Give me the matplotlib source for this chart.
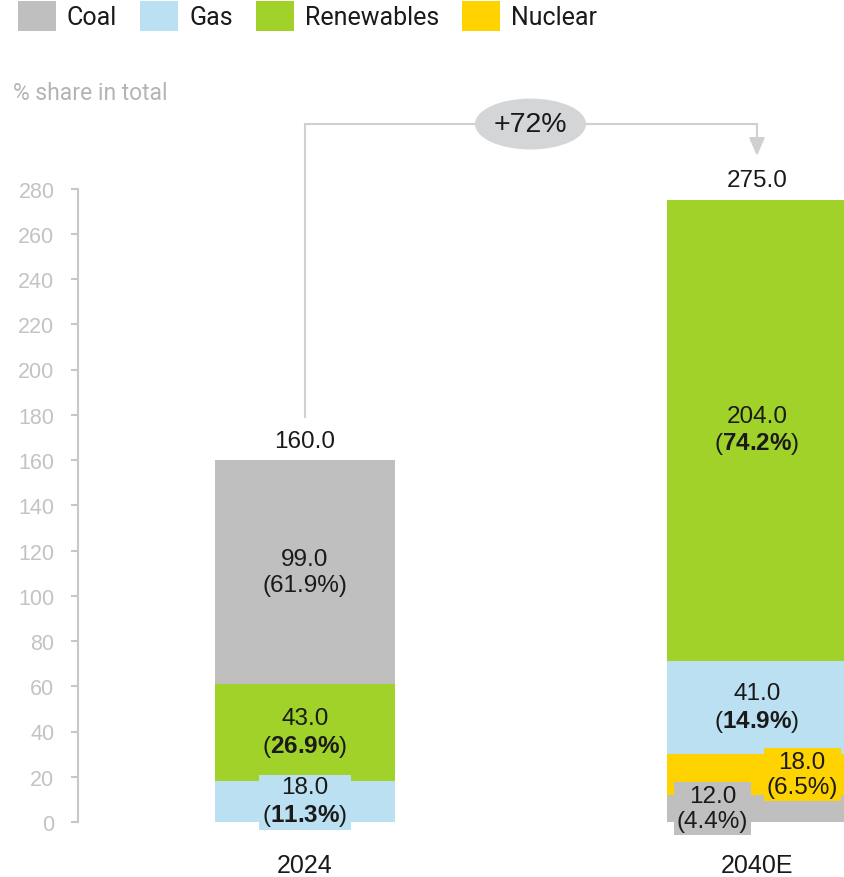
import matplotlib
matplotlib.use("Agg")
import matplotlib.pyplot as plt
from matplotlib.patches import Patch, Ellipse

plt.rcParams["font.family"] = ["Liberation Sans", "DejaVu Sans"]
plt.rcParams["mathtext.fontset"] = "custom"
plt.rcParams["mathtext.rm"] = "Liberation Sans"
plt.rcParams["mathtext.bf"] = "Liberation Sans:bold"

# --- datos ---
years = ["2024", "2040E"]
sources = ["Coal", "Gas", "Renewables", "Nuclear"]

# cada barra se apila de abajo hacia arriba en su propio orden
stack_2024 = ["Gas", "Renewables", "Coal"]
values_2024 = [18.0, 43.0, 99.0]
shares_2024 = ["11.3", "26.9", "61.9"]
bold_2024 = [True, True, False]

stack_2040 = ["Coal", "Nuclear", "Gas", "Renewables"]
values_2040 = [12.0, 18.0, 41.0, 204.0]
shares_2040 = ["4.4", "6.5", "14.9", "74.2"]
bold_2040 = [False, False, True, True]

totals = [160.0, 275.0]
growth = "+72%"

# --- estilo ---
colors = {"Coal": "#bfbfbf", "Gas": "#bae0f2", "Renewables": "#a0d22a", "Nuclear": "#fed300"}
dark = "#1a1a1a"
axis_grey = "#c8c8c8"
line_grey = "#d0d0d0"
# desplazamiento horizontal de algunas etiquetas (barra 2040E)
nudge = {(1, "Coal"): -0.098, (1, "Nuclear"): 0.10}

fig = plt.figure(figsize=(8.44, 8.78), dpi=100)
ax = fig.add_axes([78 / 844, 55 / 878, 1 - 78 / 844, 633.5 / 878])

stacks = [
    (stack_2024, values_2024, shares_2024, bold_2024),
    (stack_2040, values_2040, shares_2040, bold_2040),
]
width = 0.4
for i, (names, vals, shares, bolds) in enumerate(stacks):
    bottom = 0.0
    for name, v, s, b in zip(names, vals, shares, bolds):
        ax.bar(i, v, bottom=bottom, width=width, color=colors[name], edgecolor="none", zorder=2)
        if b:
            second = "($\\mathbf{" + s + "\\%}$)"
        else:
            second = f"({s}%)"
        ax.text(i + nudge.get((i, name), 0.0), bottom + v / 2, f"{v:.1f}\n{second}",
                ha="center", va="center", fontsize=17.5, color=dark, linespacing=1.2,
                bbox=dict(boxstyle="square,pad=0.12", fc=colors[name], ec="none"), zorder=4)
        bottom += v

# totales encima de cada barra
for i, t in enumerate(totals):
    ax.annotate(f"{t:.1f}", (i, t), xytext=(0, 14), textcoords="offset points",
                ha="center", va="center", fontsize=17.5, color=dark)

# flecha de crecimiento
top_y = 308.5
ax.plot([0, 0, 1], [179, top_y, top_y], color=line_grey, lw=1.5, clip_on=False,
        solid_joinstyle="miter", zorder=3)
ax.annotate("", xy=(1, 294.4), xytext=(1, top_y),
            arrowprops=dict(arrowstyle="-|>,head_length=0.55,head_width=0.24", color=line_grey,
                            lw=1.5, mutation_scale=20, shrinkA=0, shrinkB=0),
            annotation_clip=False)
ax.add_patch(Ellipse((0.499, top_y), 0.2456, 22.5, fc="#d4d5d7", ec="none", clip_on=False, zorder=5))
ax.text(0.499, top_y, growth, ha="center", va="center", fontsize=20.5, color=dark, zorder=6)

# ejes
ax.set_xlim(-0.502, 1.1925)
ax.set_ylim(0, 280)
ax.set_yticks(range(0, 281, 20))
ax.tick_params(axis="y", length=5, width=1.5, color=axis_grey, labelcolor="#c3c3c3",
               labelsize=15.5, pad=12)
ax.set_xticks([0, 1])
ax.set_xticklabels(years, fontsize=18, color=dark)
ax.tick_params(axis="x", length=0, pad=22)
for side in ["top", "right", "bottom"]:
    ax.spines[side].set_visible(False)
ax.spines["left"].set_color(axis_grey)
ax.spines["left"].set_linewidth(1.5)
ax.spines["left"].set_bounds(0, 280)

fig.text(13 / 844, 1 - 93 / 878, "% share in total", va="center", ha="left",
         fontsize=16.5, color="#b4b4b4", family="Roboto")

handles = [Patch(facecolor=colors[s], edgecolor="none") for s in sources]
fig.legend(handles, sources, loc="upper left", bbox_to_anchor=(18 / 844, 1 - 2 / 878), ncol=4,
           frameon=False, borderpad=0, borderaxespad=0, handlelength=1.52, handleheight=1.45,
           handletextpad=0.44, columnspacing=0.92, prop={"family": "Roboto", "size": 18},
           labelcolor=dark)

fig.savefig("out.png", dpi=100)
